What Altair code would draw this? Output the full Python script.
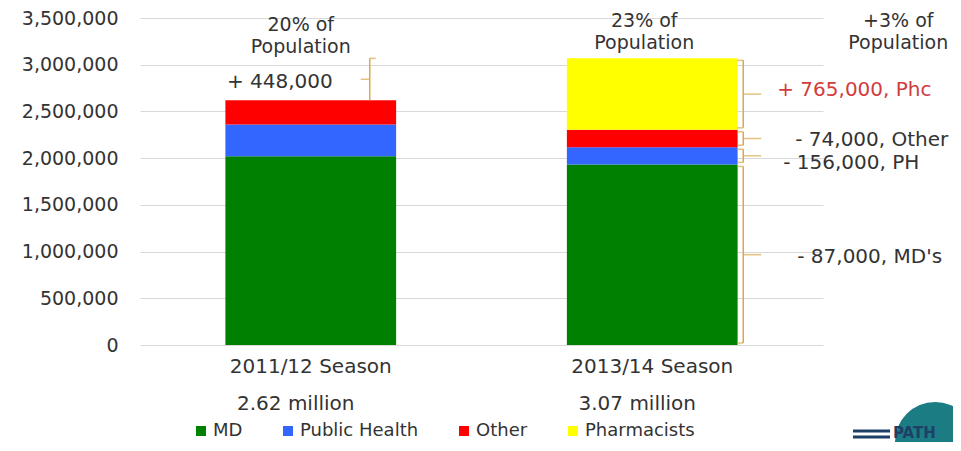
import altair as alt
import pandas as pd

# ---------------- data ----------------
seasons = ["2011/12 Season", "2013/14 Season"]
groups = ["MD", "Public Health", "Other", "Pharmacists"]
colors = ["#008000", "#3366FF", "#FF0000", "#FFFF00"]
md = [2020000, 1933000]
public_health = [340000, 184000]
other = [260000, 186000]
pharmacists = [0, 765000]
totals_text = ["2.62 million", "3.07 million"]
pop_text = ["20% of\nPopulation", "23% of\nPopulation"]
pop_change_text = "+3% of\nPopulation"
change1_text = "+ 448,000"
change2_text = ["+ 765,000, Phc", "- 74,000, Other", "- 156,000, PH", "- 87,000, MD's"]
y_ticks = [0, 500000, 1000000, 1500000, 2000000, 2500000, 3000000, 3500000]

FONT = "DejaVu Sans"
TXT = "#333333"
BRACE = "#D9A94A"

series = [md, public_health, other, pharmacists]
rows = []
for gi, g in enumerate(groups):
    for si, s in enumerate(seasons):
        rows.append({"season": s, "group": g, "value": series[gi][si], "order": gi})
bars_df = pd.DataFrame(rows)

x_axis = alt.Axis(labelAngle=0, labelFont=FONT, labelFontSize=20, labelColor=TXT,
                  labelPadding=11, ticks=False, domain=False, grid=False, title=None)
y_axis = alt.Axis(values=y_ticks, format=",d", labelFont=FONT, labelFontSize=19,
                  labelColor=TXT, labelPadding=22, ticks=False, domain=False,
                  gridColor="#D9D9D9", gridWidth=1, title=None)
x_scale = alt.Scale(paddingInner=0.5, paddingOuter=0.25)
y_scale = alt.Scale(domain=[0, 3500000])

def xs():
    return alt.X("season:N", sort=seasons, scale=x_scale, axis=x_axis, title=None)

def yq(field, stack=None):
    if stack:
        return alt.Y(field, type="quantitative", stack=stack, scale=y_scale, axis=y_axis, title=None)
    return alt.Y(field, type="quantitative", scale=y_scale, axis=y_axis, title=None)

bars = alt.Chart(bars_df).mark_bar().encode(
    x=xs(),
    y=yq("value", stack="zero"),
    color=alt.Color("group:N", scale=alt.Scale(domain=groups, range=colors), sort=groups,
                    legend=alt.Legend(title=None, orient="none", direction="horizontal",
                                      legendX=52, legendY=404, symbolType="square",
                                      symbolSize=100, symbolStrokeWidth=0,
                                      labelFont=FONT, labelFontSize=18, labelColor=TXT,
                                      labelOffset=3, columnPadding=36)),
    order=alt.Order("order:Q"),
)

# ---------------- braces ----------------
total1 = md[0] + public_health[0] + other[0] + pharmacists[0]
total2 = md[1] + public_health[1] + other[1] + pharmacists[1]

b1 = pd.DataFrame([{"season": seasons[0], "lo": total1, "hi": total2,
                    "mid": (total1 + total2) / 2, "label": change1_text}])

seg_rows = []
cum = 0
for gi in range(len(groups)):
    v = series[gi][1]
    seg_rows.append({"season": seasons[1], "lo": cum, "hi": cum + v, "mid": cum + v / 2})
    cum += v
# labels top to bottom: Pharmacists, Other, PH, MD
seg_order = [3, 2, 1, 0]
b2 = pd.DataFrame([seg_rows[i] for i in seg_order])
b2["label"] = change2_text

def brace(df, vx, hook_c, hook_s, tick_c, tick_s, inset, bottom_hook=True):
    layers = []
    layers.append(alt.Chart(df).mark_rule(color=BRACE, strokeWidth=1.5, xOffset=vx,
                                          yOffset=-inset, y2Offset=inset).encode(
        x=xs(), y=yq("lo"), y2="hi:Q"))
    layers.append(alt.Chart(df).mark_tick(color=BRACE, thickness=1.5, size=hook_s,
                                          orient="horizontal", xOffset=hook_c,
                                          yOffset=inset).encode(
        x=xs(), y=yq("hi")))
    if bottom_hook:
        layers.append(alt.Chart(df).mark_tick(color=BRACE, thickness=1.5, size=hook_s,
                                              orient="horizontal", xOffset=hook_c,
                                              yOffset=-inset).encode(
            x=xs(), y=yq("lo")))
    layers.append(alt.Chart(df).mark_tick(color=BRACE, thickness=1.5, size=tick_s,
                                          orient="horizontal", xOffset=tick_c).encode(
        x=xs(), y=yq("mid")))
    return layers

brace_layers = brace(b1, 59, 62, 6, 54.5, 9, 0, bottom_hook=False)
brace_layers += brace(b2, 91, 88, 6, 100, 18, 2)

# ---------------- texts ----------------
lab1 = alt.Chart(b1).mark_text(align="right", baseline="middle", dx=22, dy=3,
                               font=FONT, fontSize=20, color=TXT).encode(
    x=xs(), y=yq("mid"), text="label:N")

lab2_dx = [125, 143, 131, 145]
lab2_dy = [-4, 1, 7, 2]
lab2_col = ["#D23C3C", TXT, TXT, TXT]
lab2_layers = []
for i in range(len(b2)):
    lab2_layers.append(alt.Chart(b2.iloc[[i]]).mark_text(
        align="left", baseline="middle", dx=lab2_dx[i], dy=lab2_dy[i],
        font=FONT, fontSize=20, color=lab2_col[i]).encode(
        x=xs(), y=yq("mid"), text="label:N"))

hdr_df = pd.DataFrame({"season": seasons, "txt": pop_text})
hdr1 = alt.Chart(hdr_df.iloc[[0]]).mark_text(
    align="center", baseline="middle", lineBreak="\n", lineHeight=22, dx=-10,
    font=FONT, fontSize=19, color=TXT).encode(x=xs(), y=alt.value(7), text="txt:N")
hdr2 = alt.Chart(hdr_df.iloc[[1]]).mark_text(
    align="center", baseline="middle", lineBreak="\n", lineHeight=22, dx=-8,
    font=FONT, fontSize=19, color=TXT).encode(x=xs(), y=alt.value(3), text="txt:N")
hdr3 = alt.Chart(pd.DataFrame({"season": [seasons[1]], "txt": [pop_change_text]})).mark_text(
    align="center", baseline="middle", lineBreak="\n", lineHeight=22, dx=246,
    font=FONT, fontSize=19, color=TXT).encode(x=xs(), y=alt.value(3), text="txt:N")

tot_df = pd.DataFrame({"season": seasons, "txt": totals_text})
tots = alt.Chart(tot_df).mark_text(align="center", baseline="middle", dx=-15,
                                   font=FONT, fontSize=20, color=TXT).encode(
    x=xs(), y=alt.value(386), text="txt:N")

# ---------------- logo (decorative) ----------------
one = alt.Data(values=[{"k": 1}])
dome = alt.Chart(one).mark_arc(color="#1C7C83", outerRadius=40, theta=4.712, theta2=7.854).encode(
    x=alt.value(795), y=alt.value(424))
stripe1 = alt.Chart(one).mark_rule(color="#1E3F66", strokeWidth=3).encode(
    x=alt.value(713), x2=alt.value(750), y=alt.value(413))
stripe2 = alt.Chart(one).mark_rule(color="#1E3F66", strokeWidth=3).encode(
    x=alt.value(713), x2=alt.value(750), y=alt.value(419))
path_txt = alt.Chart(one).mark_text(text="PATH", font=FONT, fontSize=15, fontWeight="bold",
                                    color="#1E3F66", align="left", baseline="top").encode(
    x=alt.value(753), y=alt.value(408))

chart = alt.layer(
    bars, *brace_layers, lab1, *lab2_layers, hdr1, hdr2, hdr3, tots,
    dome, stripe1, stripe2, path_txt
).properties(
    width=683, height=327,
    background="white",
    autosize=alt.AutoSizeParams(type="none"),
    padding={"left": 132, "top": 10, "right": 130, "bottom": 98},
).configure_view(stroke=None)

chart.save("out.html", embed_options={"renderer": "svg", "actions": False})
